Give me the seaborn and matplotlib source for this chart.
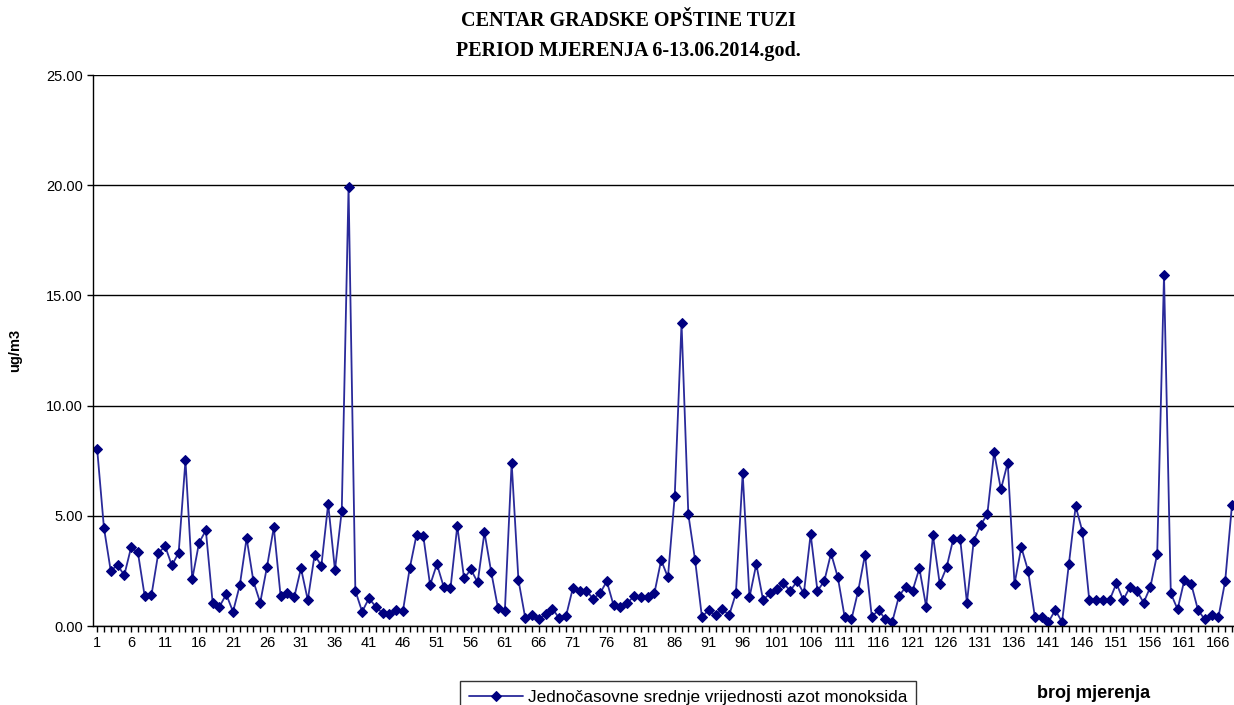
import numpy as np
import pandas as pd
import matplotlib
matplotlib.use('Agg')
import matplotlib.pyplot as plt
from matplotlib.ticker import MultipleLocator, FormatStrFormatter
import seaborn as sns

# Jednočasovne srednje vrijednosti NO (ug/m3), 168 mjerenja
no_values = [
    8.05, 4.47, 2.51, 2.76, 2.31, 3.57, 3.34, 1.36, 1.41, 3.30,
    3.63, 2.75, 3.33, 7.52, 2.13, 3.78, 4.34, 1.06, 0.88, 1.44,
    0.65, 1.86, 3.99, 2.03, 1.06, 2.69, 4.48, 1.36, 1.51, 1.30,
    2.62, 1.18, 3.22, 2.74, 5.54, 2.54, 5.23, 19.92, 1.60, 0.65,
    1.26, 0.88, 0.58, 0.53, 0.73, 0.68, 2.62, 4.13, 4.08, 1.86,
    2.81, 1.78, 1.71, 4.54, 2.16, 2.57, 1.98, 4.25, 2.44, 0.80,
    0.68, 7.41, 2.09, 0.37, 0.50, 0.30, 0.53, 0.79, 0.35, 0.45,
    1.71, 1.60, 1.60, 1.24, 1.48, 2.03, 0.94, 0.88, 1.03, 1.36,
    1.30, 1.30, 1.48, 2.99, 2.21, 5.90, 13.75, 5.07, 2.98, 0.41,
    0.73, 0.48, 0.79, 0.48, 1.48, 6.93, 1.30, 2.81, 1.18, 1.48,
    1.68, 1.94, 1.60, 2.03, 1.48, 4.17, 1.60, 2.03, 3.30, 2.21,
    0.42, 0.30, 1.60, 3.24, 0.42, 0.73, 0.30, 0.18, 1.36, 1.78,
    1.60, 2.62, 0.88, 4.11, 1.91, 2.66, 3.96, 3.96, 1.06, 3.87,
    4.58, 5.07, 7.88, 6.20, 7.41, 1.91, 3.57, 2.51, 0.41, 0.41,
    0.18, 0.73, 0.18, 2.81, 5.44, 4.28, 1.18, 1.18, 1.18, 1.18,
    1.94, 1.18, 1.78, 1.60, 1.06, 1.78, 3.27, 15.93, 1.48, 0.76,
    2.09, 1.91, 0.73, 0.30, 0.48, 0.39, 2.03, 5.49,
]
broj = list(range(1, len(no_values) + 1))
x_tick_labels = list(range(1, 167, 5))

df = pd.DataFrame({'broj': broj, 'no': no_values})

sns.set_style('white')
plt.rcParams['font.family'] = ['Liberation Sans', 'DejaVu Sans']
for key in ['text.color', 'axes.labelcolor', 'xtick.color', 'ytick.color']:
    plt.rcParams[key] = 'black'

fig = plt.figure(figsize=(12.34, 7.05), dpi=100)
ax = fig.add_axes([0.0754, 0.112, 0.9246, 0.7816])

sns.lineplot(data=df, x='broj', y='no', ax=ax, color='#2a2a9a', linewidth=1.3,
             marker='D', markersize=5.5, markerfacecolor='#000080',
             markeredgecolor='#000080',
             label='Jednočasovne srednje vrijednosti azot monoksida')

ax.set_xlim(0.4, 168.3)
ax.set_ylim(0, 25)
ax.yaxis.set_major_locator(MultipleLocator(5))
ax.yaxis.set_major_formatter(FormatStrFormatter('%.2f'))
ax.set_xticks(x_tick_labels)
ax.set_xticklabels([str(v) for v in x_tick_labels])
ax.xaxis.set_minor_locator(MultipleLocator(1))
ax.tick_params(axis='both', which='major', labelsize=10.5, direction='out',
               length=4, width=1, color='black', bottom=True, left=True)
ax.tick_params(axis='x', which='minor', direction='out', length=4, width=1,
               color='black', bottom=True)
ax.grid(axis='y', color='black', linewidth=1)
ax.set_axisbelow(True)

for side in ['top', 'right']:
    ax.spines[side].set_visible(False)
for side in ['left', 'bottom']:
    ax.spines[side].set_color('black')
    ax.spines[side].set_linewidth(1)

ax.set_xlabel('')
ax.set_ylabel('ug/m3', fontsize=10.5, fontweight='bold')
ax.yaxis.set_label_coords(-0.062, 0.5)

serif = ['Liberation Serif', 'DejaVu Serif']
fig.text(0.509, 0.97, 'CENTAR GRADSKE OPŠTINE TUZI', ha='center', va='center',
         fontsize=14.5, fontweight='bold', family=serif)
fig.text(0.509, 0.928, 'PERIOD MJERENJA 6-13.06.2014.god.', ha='center', va='center',
         fontsize=14.5, fontweight='bold', family=serif)
fig.text(0.886, 0.017, 'broj mjerenja', ha='center', va='center',
         fontsize=13, fontweight='bold')

leg = ax.legend(loc='upper left', bbox_to_anchor=(460 / 1234, 1 - 681 / 705),
                bbox_transform=fig.transFigure, frameon=True, fancybox=False,
                fontsize=12.3, handlelength=3.2, borderpad=0.5,
                handletextpad=0.3, borderaxespad=0)
leg.get_frame().set_edgecolor('black')
leg.get_frame().set_linewidth(1)

fig.savefig('out.png', dpi=100)
